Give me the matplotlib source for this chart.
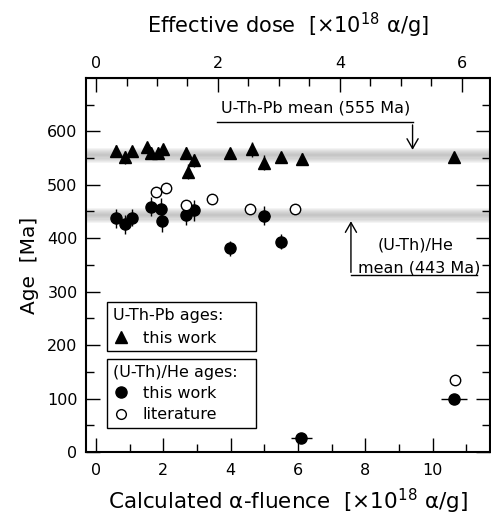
import numpy as np
import matplotlib
matplotlib.use('Agg')
import matplotlib.pyplot as plt
from matplotlib.lines import Line2D

# U-Th-Pb ages (this work)
pb_fluence = [0.58, 0.86, 1.08, 1.52, 1.62, 1.85, 1.99, 2.68, 2.91, 2.74, 3.98, 4.64, 4.99, 5.48, 6.12, 10.62]
pb_age = [564, 551, 563, 570, 560, 560, 566, 560, 546, 524, 560, 566, 541, 551, 549, 551]
pb_err = [10, 12, 8, 8, 10, 10, 8, 10, 12, 14, 6, 14, 14, 8, 10, 6]

# (U-Th)/He ages (this work)
he_fluence = [0.58, 0.86, 1.08, 1.64, 1.92, 1.97, 2.66, 2.91, 3.98, 4.99, 5.48, 6.10, 10.62]
he_age = [437, 426, 438, 459, 454, 432, 443, 452, 381, 442, 393, 27, 99]
he_err = [18, 18, 16, 18, 22, 20, 18, 20, 14, 18, 14, 6, 6]
he_xerr = [0, 0, 0, 0, 0, 0, 0, 0, 0, 0.17, 0.15, 0.32, 0.39]

# (U-Th)/He ages (literature)
lit_fluence = [1.77, 2.07, 2.68, 3.45, 4.56, 5.92, 10.67]
lit_age = [487, 494, 463, 474, 454, 454, 135]

pb_mean = 555
he_mean = 443
dose_factor = 0.5525

fs = 11.5
fig = plt.figure(figsize=(4.91, 5.15), dpi=100)
ax = fig.add_axes([0.175, 0.122, 0.823, 0.727])

# grey bands for the means
for m in [pb_mean, he_mean]:
    for w in np.linspace(14, 2, 7):
        ax.axhspan(m - w, m + w, color='#909090', alpha=0.09, lw=0, zorder=0)

# error bars
ax.errorbar(pb_fluence, pb_age, yerr=pb_err, fmt='none', ecolor='black', elinewidth=1, capsize=0, zorder=2)
ax.errorbar(he_fluence, he_age, yerr=he_err, xerr=he_xerr, fmt='none', ecolor='black', elinewidth=1, capsize=0, zorder=2)

ax.plot(pb_fluence, pb_age, '^', color='black', ms=8, ls='none', zorder=3)
ax.plot(he_fluence, he_age, 'o', color='black', ms=8, ls='none', zorder=3)
ax.plot(lit_fluence, lit_age, 'o', mfc='white', mec='black', mew=1, ms=7.5, ls='none', zorder=4)

ax.set_xlim(-0.3, 11.7)
ax.set_ylim(0, 700)
ax.set_xticks([0, 2, 4, 6, 8, 10])
ax.set_xticks(np.arange(1, 12, 2), minor=True)
ax.set_yticks(np.arange(0, 700, 100))
ax.set_yticks(np.arange(50, 700, 100), minor=True)
ax.tick_params(which='both', direction='in', right=True, labelsize=fs, width=1)
ax.tick_params(axis='x', pad=8)
ax.tick_params(axis='y', pad=6)
ax.tick_params(which='major', length=10)
ax.tick_params(which='minor', length=6)
for s in ax.spines.values():
    s.set_linewidth(1.5)

ax.set_xlabel('Calculated α-fluence  [×10$^{18}$ α/g]', fontsize=15.5, labelpad=6)
ax.set_ylabel('Age  [Ma]', fontsize=14.5, labelpad=6)

top = ax.secondary_xaxis('top', functions=(lambda x: x * dose_factor, lambda x: x / dose_factor))
top.set_xticks([0, 2, 4, 6])
top.set_xticks(np.arange(0.5, 6.5, 0.5), minor=True)
top.tick_params(which='both', direction='in', labelsize=fs, width=1, pad=5)
top.tick_params(which='major', length=10)
top.tick_params(which='minor', length=6)
top.set_xlabel('Effective dose  [×10$^{18}$ α/g]', fontsize=15, labelpad=16)

# mean annotations
ax.text(3.7, 643, 'U-Th-Pb mean (555 Ma)', fontsize=fs, ha='left', va='center')
ax.plot([3.6, 9.4], [617, 617], color='black', lw=1)
ax.annotate('', xy=(9.4, 560), xytext=(9.4, 617),
            arrowprops=dict(arrowstyle='->,head_length=0.7,head_width=0.4', color='black', lw=1))

ax.text(9.5, 387, '(U-Th)/He', fontsize=fs, ha='center', va='center')
ax.text(9.6, 344, 'mean (443 Ma)', fontsize=fs, ha='center', va='center')
ax.plot([7.57, 11.3], [331, 331], color='black', lw=1)
ax.annotate('', xy=(7.57, 437), xytext=(7.57, 331),
            arrowprops=dict(arrowstyle='->,head_length=0.7,head_width=0.4', color='black', lw=1))

# legends
h_pb = Line2D([], [], marker='^', color='black', ls='none', ms=8)
h_he = Line2D([], [], marker='o', color='black', ls='none', ms=8)
h_lit = Line2D([], [], marker='o', mfc='white', mec='black', ls='none', ms=7)

leg1 = ax.legend([h_pb], ['this work'], title='U-Th-Pb ages:', loc='upper left',
                 bbox_to_anchor=(0.052, 0.262, 0.37, 0.139), mode='expand', borderaxespad=0,
                 fancybox=False, edgecolor='black', fontsize=fs, title_fontsize=fs, alignment='left',
                 handlelength=1, handletextpad=0.9, borderpad=0.35, framealpha=1)
leg1.get_frame().set_linewidth(1)
ax.add_artist(leg1)
leg2 = ax.legend([h_he, h_lit], ['this work', 'literature'], title='(U-Th)/He ages:', loc='upper left',
                 bbox_to_anchor=(0.052, 0.048, 0.37, 0.201), mode='expand', borderaxespad=0,
                 fancybox=False, edgecolor='black', fontsize=fs, title_fontsize=fs, alignment='left',
                 handlelength=1, handletextpad=0.9, borderpad=0.35, labelspacing=0.4, framealpha=1)
leg2.get_frame().set_linewidth(1)

fig.savefig('out.png', dpi=100)
